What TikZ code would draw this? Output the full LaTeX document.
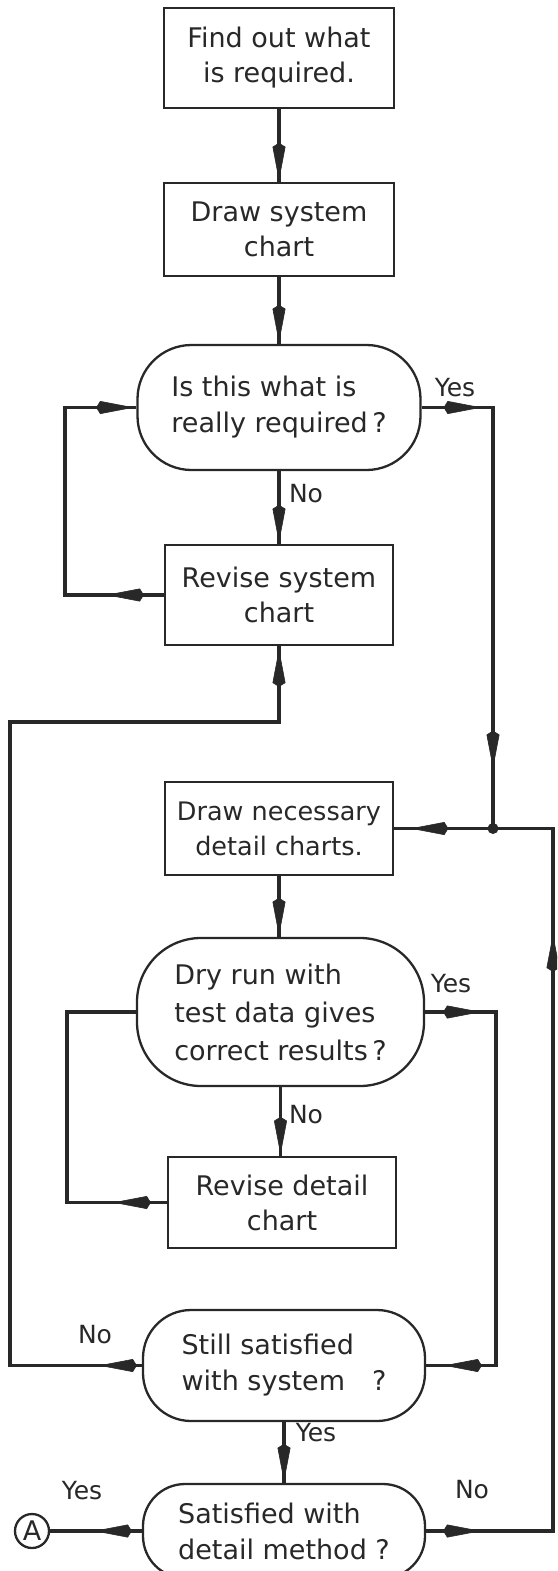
\documentclass[tikz,border=0pt]{standalone}
\usepackage{fontspec}
\setmainfont{DejaVu Sans}
\usetikzlibrary{arrows.meta,decorations.markings}
\definecolor{ink}{RGB}{40,40,40}
\begin{document}
\begin{tikzpicture}[x=1pt,y=-1pt,
  box/.style={draw=ink, line width=2.3pt, minimum width=230pt, minimum height=100pt,
    inner sep=0pt, align=center, text=ink, font=\fontsize{27}{35}\selectfont},
  dec/.style={draw=ink, line width=2.3pt, inner sep=0pt, align=left, text=ink,
    font=\fontsize{27}{36}\selectfont},
  conn/.style={draw=ink, line width=3.6pt, line join=miter},
  lbl/.style={text=ink, inner sep=0pt, font=\fontsize{25}{28}\selectfont},
  dart/.style={postaction={decorate, decoration={markings,
    mark=at position #1 with {\arrow{Kite[length=38pt,width=13pt,inset=4pt,line width=0.6pt]}}}}}
]
\useasboundingbox (0,0) rectangle (557,1571);
\clip (0,0) rectangle (557,1571);
\fill[white] (0,0) rectangle (557,1571);

% nodes
\node[box] (b1) at (279,58) {Find out what\\is required.};
\node[box, minimum height=93pt] (b2) at (279,229.5) {Draw system\\chart};
\node[dec, minimum width=283pt, minimum height=125pt, rounded corners=54pt] (d1) at (279,407.5) {Is this what is\\really required\,?};
\node[box, minimum width=228pt] (b3) at (279,595) {Revise system\\chart};
\node[box, minimum width=228pt, minimum height=93pt, font=\fontsize{25.5}{35}\selectfont] (b4) at (279,828.5) {Draw necessary\\detail charts.};
\node[dec, minimum width=287pt, minimum height=148pt, rounded corners=64pt, font=\fontsize{27}{38}\selectfont] (d2) at (280.5,1012) {Dry run with\\test data gives\\correct results\,?};
\node[box, minimum width=228pt, minimum height=91pt] (b5) at (282,1202.5) {Revise detail\\chart};
\node[dec, minimum width=282pt, minimum height=111pt, rounded corners=48pt] (d3) at (284,1365.5) {Still satisfied\\with system\quad?};
\node[dec, minimum width=282pt, minimum height=94pt, rounded corners=42pt] (d4) at (284,1531) {Satisfied with\\detail method ?};
\node[circle, draw=ink, line width=2.3pt, minimum size=34pt, inner sep=0pt, text=ink,
  font=\fontsize{27}{28}\selectfont] (A) at (32,1531) {A};

% labels
\node[lbl] (y1) at (455,388) {Yes};
\node[lbl] (n1) at (306,494) {No};
\node[lbl] (y2) at (451,984) {Yes};
\node[lbl] (n2) at (306,1115) {No};
\node[lbl] (n3) at (95,1335) {No};
\node[lbl] (y3) at (316,1433) {Yes};
\node[lbl] (y4) at (82,1491) {Yes};
\node[lbl] (n4) at (472,1490) {No};

% coordinates
\coordinate (l1) at (65,595);
\coordinate (l2) at (65,407.5);
\coordinate (r1) at (493,407.5);
\coordinate (j) at (493,828.5);
\coordinate (r2) at (553,1531);
\coordinate (r3) at (553,828.5);
\coordinate (m1) at (10,1365.5);
\coordinate (m2) at (10,722);
\coordinate (m3) at (279,722);
\coordinate (q1) at (496,1012);
\coordinate (q2) at (496,1365.5);
\coordinate (p1) at (67,1202.5);
\coordinate (p2) at (67,1012);

% connectors
\draw[conn, dart=-1pt] (b1.south) -- (b2.north);
\draw[conn, dart=-1pt] (b2.south) -- (d1.north);
\draw[conn, dart=-1pt] (d1.south) -- (b3.north);
\draw[conn, dart=58pt, dart=355.5pt] (b3.west) -- (l1) -- (l2) -- (d1.west);
\draw[conn, dart=60pt, dart=432.5pt, dart=575pt] (d1.east) -- (r1) -- (j) -- (b4.east);
\draw[conn, dart=55pt, dart=724pt] (d4.east) -- (r2) -- (r3) -- (j);
\fill[ink] (j) circle (5.5pt);
\draw[conn, dart=43pt, dart=1117.5pt] (d3.west) -- (m1) -- (m2) -- (m3) -- (b3.south);
\draw[conn, dart=-1pt] (b4.south) -- (b4.south |- d2.north);
\draw[conn, dart=56pt, dart=476.5pt] (d2.east) -- (q1) -- (q2) -- (d3.east);
\draw[conn, dart=54pt, dart=359.5pt] (b5.west) -- (p1) -- (p2) -- (d2.west);
\draw[conn, dart=-1pt] (d2.south) -- (d2.south |- b5.north);
\draw[conn, dart=-1pt] (d3.south) -- (d4.north);
\draw[conn, dart=48pt] (d4.west) -- (A.east);
\end{tikzpicture}
\end{document}
